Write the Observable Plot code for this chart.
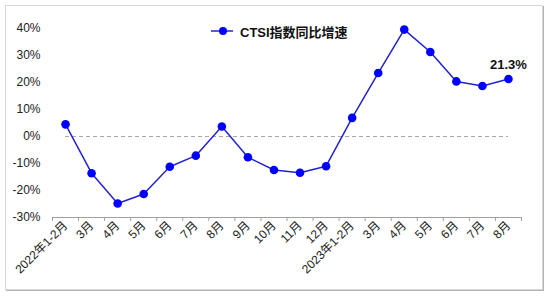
<!DOCTYPE html>
<html>
<head>
<meta charset="utf-8">
<script src="https://cdn.jsdelivr.net/npm/d3@7"></script>
<script src="https://cdn.jsdelivr.net/npm/@observablehq/plot@0.6"></script>
<style>
  html, body { margin: 0; padding: 0; background: #fff; }
  #wrap { position: relative; width: 550px; height: 296px; overflow: hidden;
    font-family: "Liberation Sans", Arial, "Noto Sans CJK SC", sans-serif; }
  #frame { position: absolute; left: 5px; top: 5px; width: 536px; height: 283px;
    border: 1px solid #d6d6d6; box-shadow: 1px 1px 0 #b4b4b4; pointer-events: none; }
  #legend { position: absolute; left: 211px; top: 22px; height: 18px; display: flex; align-items: center;
    font-size: 13px; font-weight: bold; color: #111; white-space: nowrap; }
  #legend svg { margin-right: 6px; }
  #chart { position: absolute; left: 0; top: 0; }
</style>
</head>
<body>
<div id="wrap">
  <div id="chart"></div>
  <div id="frame"></div>
  <div id="legend"></div>
</div>
<script>
const categories = ["2022年1-2月","3月","4月","5月","6月","7月","8月","9月","10月","11月","12月",
                    "2023年1-2月","3月","4月","5月","6月","7月","8月"];
const growth = [4.5, -13.6, -24.8, -21.3, -11.2, -7.1, 3.7, -7.7, -12.4, -13.4, -11.0,
                6.9, 23.5, 39.6, 31.3, 20.4, 18.7, 21.3];
const yTicks = [-30, -20, -10, 0, 10, 20, 30, 40];
const seriesName = "CTSI指数同比增速";

const lineColor = "#2323cc";
const dotColor = "#0000ff";

const data = categories.map((c, i) => ({i, cat: c, v: growth[i]}));
const n = categories.length;

const chart = Plot.plot({
  width: 550,
  height: 296,
  marginLeft: 52,
  marginRight: 29,
  marginTop: 28,
  marginBottom: 79,
  style: {fontFamily: '"Liberation Sans", Arial, "Noto Sans CJK SC", sans-serif', fontSize: "12px", color: "#222", background: "transparent"},
  x: {type: "linear", domain: [-0.5, n - 0.5], axis: null},
  y: {domain: [-30, 40], axis: null},
  marks: [
    Plot.ruleY([0], {x1: 0, x2: n - 1, stroke: "#a8a8a8", strokeDasharray: "4,3", strokeWidth: 1}),
    Plot.axisY({ticks: yTicks, tickFormat: d => d + "%", tickSize: 0, tickPadding: 12, label: null, fontSize: 12}),
    Plot.ruleY([-30], {stroke: "#a0a0a0", strokeWidth: 1}),
    Plot.axisX({ticks: d3.range(-0.5, n, 1), tickSize: 4, tickFormat: () => "", label: null, stroke: "#a0a0a0"}),
    Plot.axisX({ticks: d3.range(0, n), tickSize: 0, tickPadding: 6, tickRotate: -45,
      tickFormat: i => categories[i], label: null, fontSize: 12}),
    Plot.lineY(data, {x: "i", y: "v", stroke: lineColor, strokeWidth: 1.5}),
    Plot.dot(data, {x: "i", y: "v", r: 4.3, fill: dotColor, stroke: "none"}),
    Plot.text([data[n - 1]], {x: "i", y: "v", text: d => d.v.toFixed(1) + "%", dy: -14,
      fontWeight: "bold", fontSize: 13, fill: "#111"})
  ]
});
document.getElementById("chart").appendChild(chart);

const legend = document.getElementById("legend");
legend.innerHTML = `<svg width="23" height="10"><line x1="0" y1="5" x2="22" y2="5" stroke="${lineColor}" stroke-width="1.5"/><circle cx="12" cy="5" r="4" fill="${dotColor}"/></svg><span>${seriesName}</span>`;
</script>
</body>
</html>
